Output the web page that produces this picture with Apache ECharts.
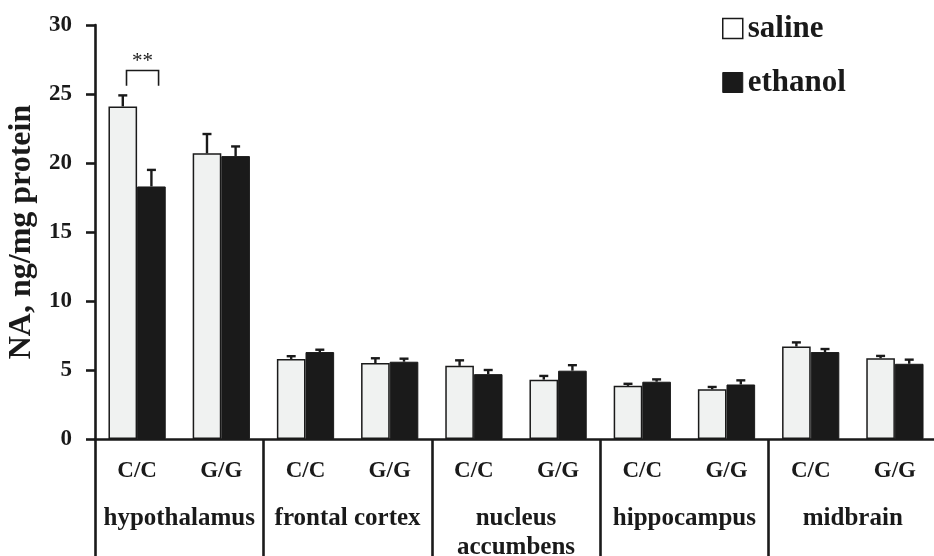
<!DOCTYPE html>
<html>
<head>
<meta charset="utf-8">
<script src="https://cdn.jsdelivr.net/npm/echarts@6/dist/echarts.min.js"></script>
<style>
html,body{margin:0;padding:0;background:#fff;}
#chart{width:934px;height:556px;}
</style>
</head>
<body>
<div id="chart"></div>
<script>
const categories = ['C/C','G/G','C/C','G/G','C/C','G/G','C/C','G/G','C/C','G/G'];
const regions = ['hypothalamus','frontal cortex','nucleus\naccumbens','hippocampus','midbrain'];
const salineMeans = [24.1, 20.7, 5.8, 5.5, 5.3, 4.3, 3.85, 3.6, 6.7, 5.85];
const salineErr   = [0.8, 1.4, 0.2, 0.35, 0.4, 0.27, 0.15, 0.17, 0.3, 0.17];
const ethanolMeans = [18.3, 20.5, 6.3, 5.6, 4.7, 4.95, 4.15, 3.95, 6.3, 5.45];
const ethanolErr   = [1.2, 0.7, 0.17, 0.22, 0.3, 0.4, 0.17, 0.3, 0.22, 0.3];
const yMin = 0, yMax = 30, yInterval = 5;
const yTitle = 'NA, ng/mg protein';
const seriesNames = ['saline','ethanol'];
// significance bracket: [category index, leg bottom value, bracket top value]
const sigBracket = [[0, 25.6, 26.7]];
const sigLabel = '**';

const FONT = "'Liberation Serif','Times New Roman',serif";
const INK = '#1a1a1a';
const BAR_FRAC = 0.34;

function errItem(side){
  return function(params, api){
    const i = api.value(0), m = api.value(1), e = api.value(2);
    const base = api.coord([i, m]);
    const top = api.coord([i, m + e]);
    const bw = api.size([1, 0])[0] * BAR_FRAC;
    const x = base[0] + side * bw / 2;
    const st = {stroke: INK, lineWidth: 2.4};
    return {type:'group', children:[
      {type:'line', shape:{x1:x, y1:base[1], x2:x, y2:top[1]}, style:st},
      {type:'line', shape:{x1:x-4.5, y1:top[1], x2:x+4.5, y2:top[1]}, style:st}
    ]};
  };
}

function bracketItem(params, api){
  const i = api.value(0), lo = api.value(1), hi = api.value(2);
  const c = api.coord([i, hi]);
  const b = api.coord([i, lo]);
  const bw = api.size([1, 0])[0] * BAR_FRAC;
  const l = c[0] - 0.37 * bw, r = c[0] + 0.75 * bw;
  const st = {stroke: INK, lineWidth: 1.6, fill: null};
  return {type:'group', children:[
    {type:'polyline', shape:{points:[[l,b[1]],[l,c[1]],[r,c[1]],[r,b[1]]]}, style:st},
    {type:'text', x:(l+r)/2, y:c[1]-9, style:{text:sigLabel, fill:INK, font:"21px " + FONT, textAlign:'center', textVerticalAlign:'middle'}}
  ]};
}

const chart = echarts.init(document.getElementById('chart'), null, {renderer:'canvas'});
chart.setOption({
  animation:false,
  backgroundColor:'#fff',
  grid:{left:95, right:-3, top:25, bottom:117, containLabel:false, outerBoundsMode:'none'},
  legend:{
    orient:'vertical', left:722, top:13, itemWidth:20, itemHeight:20, itemGap:23,
    padding:0, icon:'rect',
    textStyle:{fontFamily:FONT, fontWeight:'bold', fontSize:31, color:INK, padding:[0,0,0,0]},
    data:[
      {name:'saline', itemStyle:{color:'#fff', borderColor:INK, borderWidth:1.5}},
      {name:'ethanol', itemStyle:{color:INK, borderColor:INK, borderWidth:1}}
    ]
  },
  xAxis:[
    {type:'category', data:categories, gridIndex:0, position:'bottom',
     axisLine:{show:true, lineStyle:{color:INK, width:2.6}},
     axisTick:{show:false},
     axisLabel:{interval:0, margin:21, fontFamily:FONT, fontWeight:'bold', fontSize:23, color:INK},
     splitLine:{show:false}
    },
    {type:'category', data:regions, gridIndex:0, position:'bottom',
     axisLine:{show:false},
     axisTick:{show:true, length:118, lineStyle:{color:INK, width:2.6}},
     axisLabel:{interval:0, margin:65, fontFamily:FONT, fontWeight:'bold', fontSize:25, color:INK, lineHeight:29},
     splitLine:{show:false}
    }
  ],
  yAxis:{
    type:'value', min:yMin, max:yMax, interval:yInterval,
    name:yTitle, nameLocation:'middle', nameGap:47,
    nameTextStyle:{fontFamily:FONT, fontWeight:'bold', fontSize:32, color:INK},
    axisLine:{show:true, lineStyle:{color:INK, width:2.6}},
    axisTick:{show:true, length:9, lineStyle:{color:INK, width:2.6}},
    axisLabel:{margin:23, fontFamily:FONT, fontWeight:'bold', fontSize:23, color:INK},
    splitLine:{show:false}
  },
  series:[
    {name:'saline', type:'bar', xAxisIndex:0, data:salineMeans, barWidth:(BAR_FRAC*100)+'%', barGap:'0%',
     itemStyle:{color:'#f0f2f1', borderColor:INK, borderWidth:1.5}},
    {name:'ethanol', type:'bar', xAxisIndex:0, data:ethanolMeans, barWidth:(BAR_FRAC*100)+'%', barGap:'0%',
     itemStyle:{color:INK, borderColor:INK, borderWidth:1}},
    {name:'salineErr', type:'custom', xAxisIndex:0, z:5, renderItem:errItem(-1),
     data:salineMeans.map((m,i)=>[i, m, salineErr[i]])},
    {name:'ethanolErr', type:'custom', xAxisIndex:0, z:5, renderItem:errItem(1),
     data:ethanolMeans.map((m,i)=>[i, m, ethanolErr[i]])},
    {name:'sig', type:'custom', xAxisIndex:0, z:5, renderItem:bracketItem, data:sigBracket}
  ]
});
</script>
</body>
</html>
